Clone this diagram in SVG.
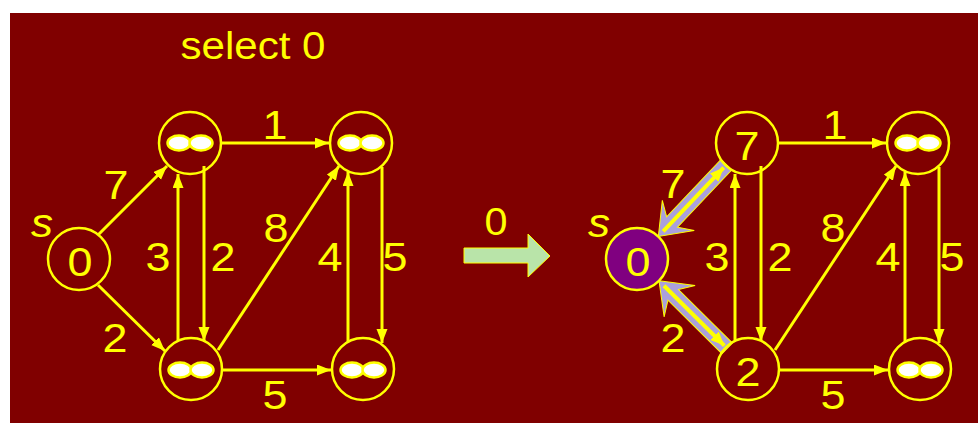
<svg xmlns="http://www.w3.org/2000/svg" width="978" height="423" viewBox="0 0 978 423">
<defs>
<style>
.node{fill:none;stroke:#ffff00;stroke-width:2.5}
.inf{fill:#ffffff;stroke:#ffff00;stroke-width:2.5}
.edge{stroke:#ffff00;stroke-width:3;fill:none;marker-end:url(#ah)}
.lbl{font-family:"Liberation Sans",Arial,sans-serif;font-size:41px;fill:#ffff00;text-anchor:middle}
.s{font-family:"Liberation Sans",Arial,sans-serif;font-size:40px;font-style:italic;fill:#ffff00;text-anchor:middle}
.hl{fill:#aaa0dc;stroke:#ffff00;stroke-width:1}
.hline{stroke:#ffff00;stroke-width:4;fill:none;marker-end:url(#ah2)}
</style>
<marker id="ah" markerUnits="userSpaceOnUse" markerWidth="15" markerHeight="12" refX="14" refY="5.5" orient="auto">
<path d="M0,0 L14,5.5 L0,11 z" fill="#ffff00"/>
</marker>
<marker id="ah2" markerUnits="userSpaceOnUse" markerWidth="15" markerHeight="13" refX="14" refY="6" orient="auto">
<path d="M0,0 L14,6 L0,12 z" fill="#ffff00"/>
</marker>
</defs>
<rect x="10" y="13" width="968" height="410" fill="#800000"/>
<text class="lbl" x="253" y="59" style="font-size:39px" textLength="145" lengthAdjust="spacingAndGlyphs">select 0</text>

<g id="connectors">
<line class="edge" x1="98" y1="235" x2="167" y2="166"/>
<line class="edge" x1="98" y1="285" x2="165" y2="351"/>
<line class="edge" x1="178" y1="340" x2="178" y2="174"/>
<line class="edge" x1="204" y1="166" x2="204" y2="341"/>
<line class="edge" x1="221" y1="143" x2="329" y2="143"/>
<line class="edge" x1="222" y1="370" x2="331" y2="370"/>
<line class="edge" x1="218" y1="350" x2="339" y2="166"/>
<line class="edge" x1="348" y1="342" x2="348" y2="172"/>
<line class="edge" x1="382" y1="167" x2="382" y2="343"/>

<line class="edge" x1="778" y1="143" x2="886" y2="143"/>
<line class="edge" x1="779" y1="370" x2="888" y2="370"/>
<line class="edge" x1="761" y1="166" x2="761" y2="341"/>
<line class="edge" x1="735" y1="340" x2="735" y2="174"/>
<line class="edge" x1="775" y1="350" x2="896" y2="166"/>
<line class="edge" x1="905" y1="342" x2="905" y2="172"/>
<line class="edge" x1="939" y1="167" x2="939" y2="343"/>

<g transform="translate(637,259) rotate(-46.52)">
<polygon class="hl" points="31,0 60,-22 51,-7.5 130,-7.5 130,7.5 51,7.5 60,22"/>
<line class="hline" x1="38" y1="0" x2="126" y2="0"/>
</g>
<g transform="translate(637,259) rotate(44.74)">
<polygon class="hl" points="31,0 60,-22 51,-7.5 127,-7.5 127,7.5 51,7.5 60,22"/>
<line class="hline" x1="38" y1="0" x2="123" y2="0"/>
</g>
</g>

<g id="edge-labels">
<text class="lbl" x="116" y="199" textLength="25" lengthAdjust="spacingAndGlyphs">7</text>
<text class="lbl" x="115" y="352" textLength="25" lengthAdjust="spacingAndGlyphs">2</text>
<text class="lbl" x="158" y="271" textLength="25" lengthAdjust="spacingAndGlyphs">3</text>
<text class="lbl" x="223" y="271" textLength="25" lengthAdjust="spacingAndGlyphs">2</text>
<text class="lbl" x="275" y="139" textLength="25" lengthAdjust="spacingAndGlyphs">1</text>
<text class="lbl" x="275" y="409" textLength="25" lengthAdjust="spacingAndGlyphs">5</text>
<text class="lbl" x="276" y="242" textLength="25" lengthAdjust="spacingAndGlyphs">8</text>
<text class="lbl" x="330" y="271" textLength="25" lengthAdjust="spacingAndGlyphs">4</text>
<text class="lbl" x="395" y="271" textLength="25" lengthAdjust="spacingAndGlyphs">5</text>

<text class="lbl" x="673" y="198" textLength="25" lengthAdjust="spacingAndGlyphs">7</text>
<text class="lbl" x="673" y="352" textLength="25" lengthAdjust="spacingAndGlyphs">2</text>
<text class="lbl" x="717" y="271" textLength="25" lengthAdjust="spacingAndGlyphs">3</text>
<text class="lbl" x="780" y="271" textLength="25" lengthAdjust="spacingAndGlyphs">2</text>
<text class="lbl" x="835" y="139" textLength="25" lengthAdjust="spacingAndGlyphs">1</text>
<text class="lbl" x="833" y="409" textLength="25" lengthAdjust="spacingAndGlyphs">5</text>
<text class="lbl" x="833" y="242" textLength="25" lengthAdjust="spacingAndGlyphs">8</text>
<text class="lbl" x="888" y="271" textLength="25" lengthAdjust="spacingAndGlyphs">4</text>
<text class="lbl" x="952" y="271" textLength="25" lengthAdjust="spacingAndGlyphs">5</text>
</g>

<g id="node-s-left">
<circle class="node" cx="79" cy="259" r="31"/>
<text class="lbl" x="80" y="276" textLength="25" lengthAdjust="spacingAndGlyphs">0</text>
<text class="s" x="42" y="237" textLength="22" lengthAdjust="spacingAndGlyphs">s</text>
</g>
<g id="node-a-left">
<circle class="node" cx="190" cy="143" r="31"/>
<ellipse class="inf" cx="179" cy="143" rx="11.5" ry="7.5"/>
<ellipse class="inf" cx="201" cy="143" rx="11.5" ry="7.5"/>
</g>
<g id="node-b-left">
<circle class="node" cx="191" cy="369" r="31"/>
<ellipse class="inf" cx="180" cy="370" rx="11.5" ry="7.5"/>
<ellipse class="inf" cx="202" cy="370" rx="11.5" ry="7.5"/>
</g>
<g id="node-c-left">
<circle class="node" cx="361" cy="143" r="31"/>
<ellipse class="inf" cx="350" cy="143" rx="11.5" ry="7.5"/>
<ellipse class="inf" cx="372" cy="143" rx="11.5" ry="7.5"/>
</g>
<g id="node-d-left">
<circle class="node" cx="363" cy="369" r="31"/>
<ellipse class="inf" cx="352" cy="370" rx="11.5" ry="7.5"/>
<ellipse class="inf" cx="374" cy="370" rx="11.5" ry="7.5"/>
</g>

<g id="transition">
<polygon points="464,248 528,248 528,234 550,256 528,277 528,263 464,263" fill="#b9e4a9" stroke="#ffff00" stroke-width="1"/>
<text class="lbl" x="496" y="235" style="font-size:38px" textLength="23" lengthAdjust="spacingAndGlyphs">0</text>
</g>

<g id="node-s-right">
<circle cx="637" cy="259" r="31" fill="#800080" stroke="#ffff00" stroke-width="2.5"/>
<text class="lbl" x="638" y="276" textLength="25" lengthAdjust="spacingAndGlyphs">0</text>
<text class="s" x="599" y="237" textLength="22" lengthAdjust="spacingAndGlyphs">s</text>
</g>
<g id="node-a-right">
<circle class="node" cx="747" cy="143" r="31"/>
<text class="lbl" x="747" y="160" textLength="25" lengthAdjust="spacingAndGlyphs">7</text>
</g>
<g id="node-b-right">
<circle class="node" cx="748" cy="369" r="31"/>
<text class="lbl" x="748" y="386" textLength="25" lengthAdjust="spacingAndGlyphs">2</text>
</g>
<g id="node-c-right">
<circle class="node" cx="918" cy="143" r="31"/>
<ellipse class="inf" cx="907" cy="143" rx="11.5" ry="7.5"/>
<ellipse class="inf" cx="929" cy="143" rx="11.5" ry="7.5"/>
</g>
<g id="node-d-right">
<circle class="node" cx="920" cy="369" r="31"/>
<ellipse class="inf" cx="909" cy="370" rx="11.5" ry="7.5"/>
<ellipse class="inf" cx="931" cy="370" rx="11.5" ry="7.5"/>
</g>
</svg>
